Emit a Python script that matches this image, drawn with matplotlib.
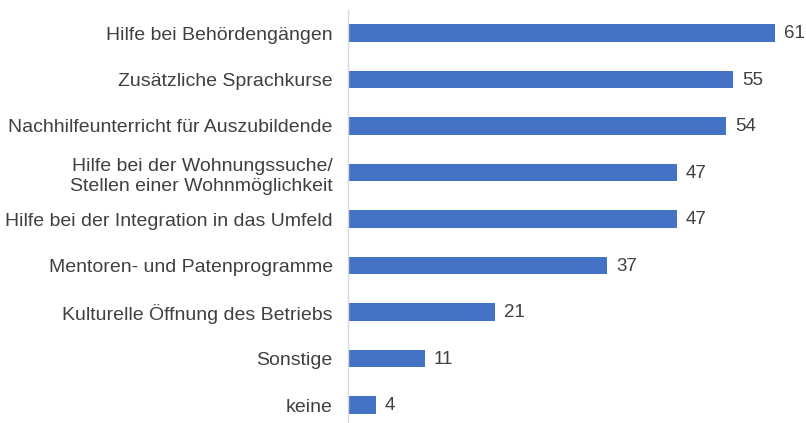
import matplotlib
matplotlib.use("Agg")
import matplotlib.pyplot as plt

categories = [
    "Hilfe bei Behördengängen",
    "Zusätzliche Sprachkurse",
    "Nachhilfeunterricht für Auszubildende",
    "Hilfe bei der Wohnungssuche/\nStellen einer Wohnmöglichkeit",
    "Hilfe bei der Integration in das Umfeld",
    "Mentoren- und Patenprogramme",
    "Kulturelle Öffnung des Betriebs",
    "Sonstige",
    "keine",
]
values = [61, 55, 54, 47, 47, 37, 21, 11, 4]

plt.rcParams['font.family'] = ['Liberation Sans', 'DejaVu Sans']

W, H = 806, 423
fig = plt.figure(figsize=(W / 100, H / 100), dpi=100)
left = 348 / W
top_px = 9.75
ax = fig.add_axes([left, 0, (803 - 348) / W, (H - top_px) / H])

ypos = list(range(len(categories)))
ax.barh(ypos, values, height=0.37, color="#4472C4", zorder=2)
ax.set_xlim(0, 65)
unit = 46.5
ax.set_ylim(-0.5 + (H - top_px) / unit, -0.5)

for y, v in zip(ypos, values):
    ax.annotate(str(v), (v, y), xytext=(6.5, -0.5), textcoords="offset points",
                va="center", ha="left", fontsize=13.5, color="#404040")

ax.set_yticks(ypos)
ax.set_yticklabels(categories, fontsize=14, color="#404040", linespacing=1.3)
ax.tick_params(axis="y", length=0, pad=11)
ax.set_xticks([])
for s in ["top", "right", "bottom"]:
    ax.spines[s].set_visible(False)
ax.spines["left"].set_color("#D9D9D9")
ax.spines["left"].set_linewidth(1)

fig.savefig("out.png", dpi=100)
